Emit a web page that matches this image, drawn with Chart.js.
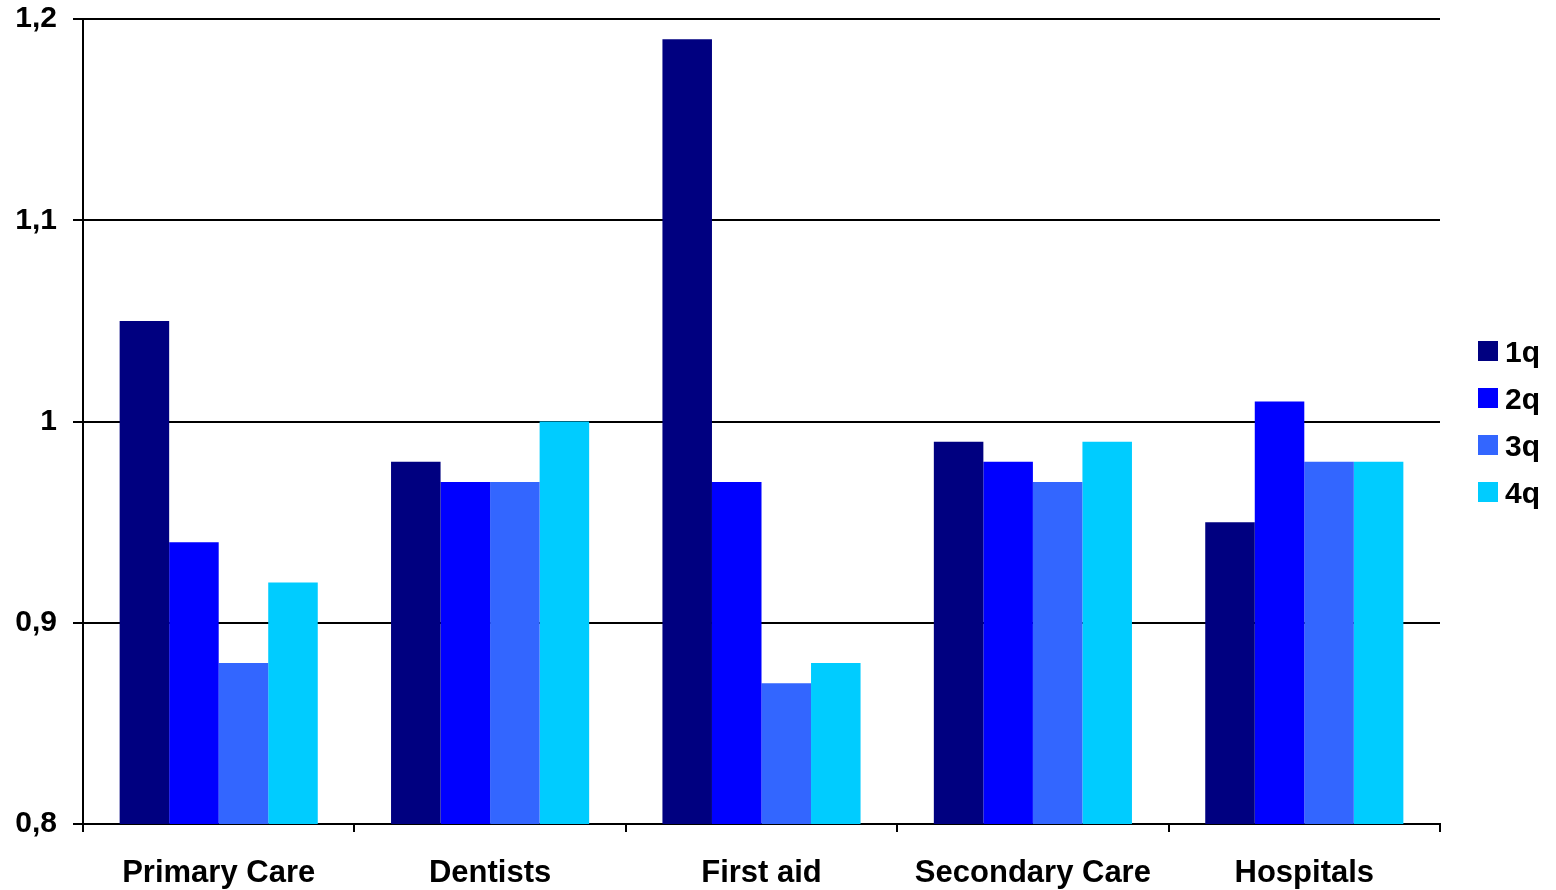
<!DOCTYPE html>
<html>
<head>
<meta charset="utf-8">
<script src="https://cdn.jsdelivr.net/npm/chart.js@4/dist/chart.umd.min.js"></script>
<style>
  html, body { margin: 0; padding: 0; background: #ffffff; }
  #wrap { width: 1556px; height: 890px; }
</style>
</head>
<body>
<div id="wrap"><canvas id="chart" width="1556" height="890"></canvas></div>
<script>
// Categories and quarterly index values
const categories = ['Primary Care', 'Dentists', 'First aid', 'Secondary Care', 'Hospitals'];
const seriesNames = ['1q', '2q', '3q', '4q'];
const q1 = [1.05, 0.98, 1.19, 0.99, 0.95];
const q2 = [0.94, 0.97, 0.97, 0.98, 1.01];
const q3 = [0.88, 0.97, 0.87, 0.97, 0.98];
const q4 = [0.92, 1.00, 0.88, 0.99, 0.98];
const yTickLabels = ['0,8', '0,9', '1', '1,1', '1,2'];
const seriesColors = ['#000080', '#0000FF', '#3366FF', '#00CCFF'];

const FONT = '"Liberation Sans", Arial, sans-serif';

// Legend drawn at the right of the plot, one swatch per dataset
const sideLegend = {
  id: 'sideLegend',
  afterDraw(chart) {
    const ctx = chart.ctx;
    const area = chart.chartArea;
    const ds = chart.data.datasets;
    const step = 47;
    const center = (area.top + area.bottom) / 2;
    const first = center - step * (ds.length - 1) / 2;
    ctx.save();
    ctx.font = 'bold 30px ' + FONT;
    ctx.textBaseline = 'alphabetic';
    ctx.textAlign = 'left';
    ds.forEach((d, i) => {
      const cy = first + i * step;
      ctx.fillStyle = d.backgroundColor;
      ctx.fillRect(area.right + 38, Math.round(cy - 10), 20, 20);
      ctx.fillStyle = '#000000';
      ctx.fillText(d.label, area.right + 65, cy + 11);
    });
    ctx.restore();
  }
};

const values = [q1, q2, q3, q4];
new Chart(document.getElementById('chart'), {
  type: 'bar',
  data: {
    labels: categories,
    datasets: seriesNames.map((name, i) => ({
      label: name,
      data: values[i],
      backgroundColor: seriesColors[i],
      borderWidth: 0,
      barPercentage: 1.0,
      categoryPercentage: 0.73
    }))
  },
  options: {
    responsive: false,
    animation: false,
    devicePixelRatio: 1,
    layout: { padding: { top: 19, right: 116, bottom: 0, left: 0 } },
    plugins: {
      legend: { display: false },
      tooltip: { enabled: false }
    },
    scales: {
      x: {
        offset: true,
        grid: {
          display: true,
          offset: true,
          drawOnChartArea: false,
          drawTicks: true,
          tickLength: 8,
          tickColor: '#000000',
          tickWidth: 2,
          color: '#000000',
          lineWidth: 2
        },
        border: { display: true, color: '#000000', width: 2 },
        ticks: {
          color: '#000000',
          padding: 23,
          maxRotation: 0,
          autoSkip: false,
          font: { family: FONT, size: 31, weight: 'bold' }
        },
        afterFit(scale) {
          scale.height = 66;
          scale.paddingLeft = 0;
          scale.paddingRight = 0;
        }
      },
      y: {
        min: 0.8,
        max: 1.2,
        ticks: {
          stepSize: 0.1,
          color: '#000000',
          padding: 16,
          font: { family: FONT, size: 30, weight: 'bold' },
          callback(value, index) { return yTickLabels[index]; }
        },
        grid: {
          color: '#000000',
          lineWidth: 2,
          drawTicks: true,
          tickLength: 10,
          tickColor: '#000000',
          tickWidth: 2
        },
        border: { display: true, color: '#000000', width: 2 },
        afterFit(scale) {
          scale.width = 83;
          scale.paddingTop = 0;
          scale.paddingBottom = 0;
        }
      }
    }
  },
  plugins: [sideLegend]
});
</script>
</body>
</html>
